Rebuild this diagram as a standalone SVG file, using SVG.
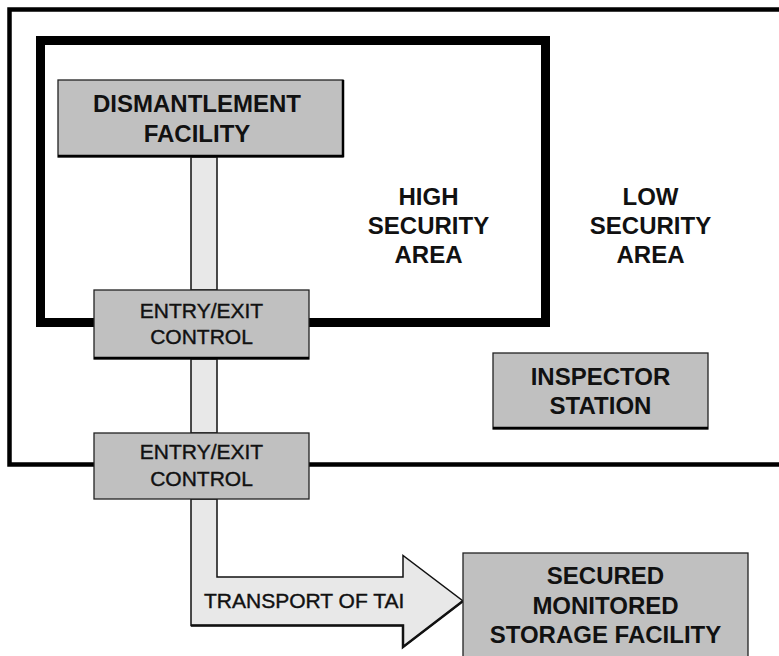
<svg xmlns="http://www.w3.org/2000/svg" width="779" height="656" viewBox="0 0 779 656">
<style>
.box{fill:#c0c0c0;stroke:#222;stroke-width:1.3}
.shadow{stroke:#000;stroke-width:2.5;fill:none}
.bar{fill:#e8e8e8;stroke:#111;stroke-width:1.5}
.b{font-family:"Liberation Sans",Arial,sans-serif;font-weight:bold;font-size:24px;fill:#111;text-anchor:middle}
.r{font-family:"Liberation Sans",Arial,sans-serif;font-size:21px;fill:#111;stroke:#111;stroke-width:0.4;text-anchor:middle}
</style>
<rect width="779" height="656" fill="#fff"/>
<g id="low-security-area">
<path d="M779 9.5 H9.5 V464.5 H779" fill="none" stroke="#000" stroke-width="4.5"/>
<text class="b" x="650.5" y="205">LOW</text>
<text class="b" x="650.5" y="234">SECURITY</text>
<text class="b" x="650.5" y="263">AREA</text>
</g>
<g id="high-security-area">
<rect x="40.5" y="40.5" width="505" height="282" fill="none" stroke="#000" stroke-width="9"/>
<text class="b" x="428.5" y="205">HIGH</text>
<text class="b" x="428.5" y="234">SECURITY</text>
<text class="b" x="428.5" y="263">AREA</text>
</g>
<g id="connectors">
<rect class="bar" x="191" y="157" width="26" height="133"/>
<rect class="bar" x="191" y="359" width="26" height="74"/>
<path id="transport-arrow" d="M191 499 V625.5 H403 V647 L463 601 L403 555.5 V577 H217 V499 Z" fill="#e8e8e8" stroke="#111" stroke-width="1.5" stroke-linejoin="miter"/>
<path d="M191 625.5 H403 V647 L463 601" fill="none" stroke="#111" stroke-width="2.5"/>
<text class="r" x="204" y="608" font-size="21.5" text-anchor="start" style="text-anchor:start">TRANSPORT OF TAI</text>
</g>
<g id="dismantlement-facility">
<rect class="box" x="58" y="80" width="285" height="77"/>
<path class="shadow" d="M58 156 H343 V80"/>
<text class="b" x="197" y="112" font-size="25">DISMANTLEMENT</text>
<text class="b" x="197" y="142" font-size="25">FACILITY</text>
</g>
<g id="entry-exit-control-1">
<rect class="box" x="94" y="290" width="215" height="69"/>
<path class="shadow" d="M94 358 H309"/>
<text class="r" x="201.5" y="318">ENTRY/EXIT</text>
<text class="r" x="201.5" y="344">CONTROL</text>
</g>
<g id="entry-exit-control-2">
<rect class="box" x="94" y="433" width="215" height="66"/>
<text class="r" x="201.5" y="459">ENTRY/EXIT</text>
<text class="r" x="201.5" y="486">CONTROL</text>
</g>
<g id="inspector-station">
<rect class="box" x="493" y="353" width="215" height="76"/>
<path class="shadow" d="M493 428 H708"/>
<text class="b" x="600.5" y="385">INSPECTOR</text>
<text class="b" x="600.5" y="414">STATION</text>
</g>
<g id="secured-monitored-storage-facility">
<rect class="box" x="463" y="553" width="285" height="110"/>
<text class="b" x="605.5" y="584">SECURED</text>
<text class="b" x="605.5" y="614">MONITORED</text>
<text class="b" x="605.5" y="643">STORAGE FACILITY</text>
</g>
</svg>
